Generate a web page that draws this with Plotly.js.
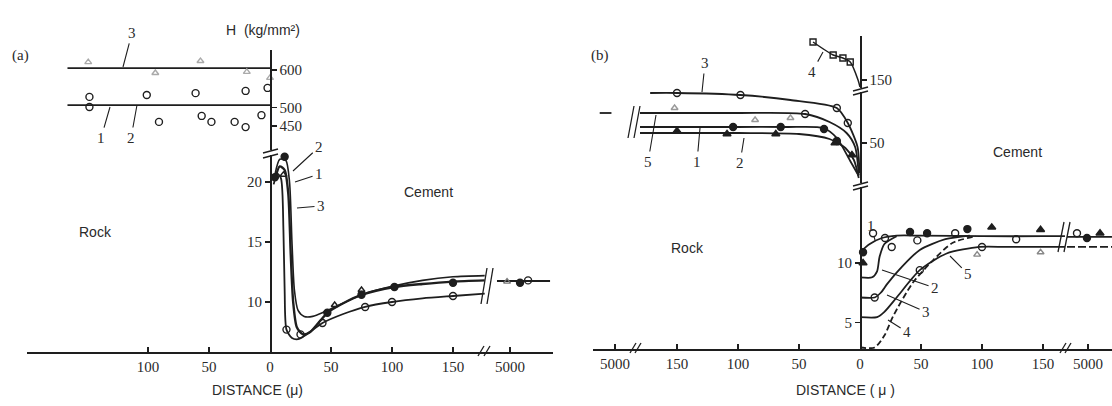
<!DOCTYPE html>
<html><head><meta charset="utf-8">
<script src="https://cdn.plot.ly/plotly-3.0.1.min.js"></script>
<style>html,body{margin:0;padding:0;background:#fff}</style>
</head><body><div id="chart" style="width:1112px;height:406px"></div>
<script>
// ---------- DATA (distance from the interface in microns; H in kg/mm^2) ----------
// Panel (a), rock side (upper H section)
const a_line3_x = [166, 0], a_line3_y = [605, 605];
const a_line12_x = [166, 0], a_line12_y = [506, 506];
const a_tri_x = [149, 94, 57, 19, 0];
const a_tri_y = [621, 592, 624, 595, 579];
const a_circ_x = [148, 101, 61, 20, 2, 148, 91, 56, 48, 29, 20, 7];
const a_circ_y = [528, 533, 538, 544, 552, 501, 461, 477, 461, 461, 447, 479];
// Panel (a), cement side (lower H section)
const a_cu_x = [4, 8, 13, 16, 18, 20, 23, 28, 35, 45, 60, 75, 100, 125, 150, 176];
const a_cu_y = [20.6, 21.9, 21.8, 20, 15, 11, 9.3, 8.8, 8.8, 9.2, 9.9, 10.6, 11.3, 11.8, 12.1, 12.2];
const a_cm_x = [4, 8, 12, 15, 17, 19, 22, 27, 33, 47, 60, 75, 102, 125, 150, 176];
const a_cm_y = [20.2, 21.3, 21.0, 19, 14, 10, 7.9, 7.3, 7.5, 9.1, 9.9, 10.6, 11.25, 11.5, 11.7, 11.8];
const a_cl_x = [3, 6, 9, 11, 12, 13.5, 18, 23, 30, 43, 60, 78, 100, 125, 150, 176];
const a_cl_y = [19.8, 20.7, 20.3, 16, 11, 7.7, 7.0, 6.9, 7.3, 8.25, 9.0, 9.6, 10.0, 10.3, 10.5, 10.7];
const a_fc_x = [4, 12, 47, 75, 102, 150], a_fc_y = [20.4, 22.1, 9.1, 10.6, 11.25, 11.6];
const a_oc_x = [13.5, 25, 43, 78, 100, 150], a_oc_y = [7.7, 7.3, 8.25, 9.58, 10.0, 10.5];
const a_ot_x = [11, 53, 75], a_ot_y = [20.6, 9.75, 11.0];
// Panel (a), 5000 micron segment (cement)
const a_far_line_x = [4902, 5298], a_far_line_y = [11.75, 11.75];
const a_far_t_x = [4977], a_far_t_y = [11.7];
const a_far_f_x = [5074], a_far_f_y = [11.6];
const a_far_o_x = [5134], a_far_o_y = [11.8];

// Panel (b), rock side, top H section (curve 4)
const b4_x = [38.5, 22, 14, 8, 1.6, 0], b4_y = [188, 175, 172, 168, 150, 143];
const b4_sq_x = [38.5, 22, 14, 8], b4_sq_y = [188, 175, 172, 168];
// Panel (b), rock side, middle H section
const b3_x = [172, 150, 98, 57, 19, 10, 2, 0.5], b3_y = [100, 100, 98, 93, 85, 70, 46, 20];
const b5_x = [181, 100, 45, 25, 11, 4, 1], b5_y = [80, 80, 79, 71, 60, 46, 18];
const b1_x = [181, 100, 60, 30, 19, 8, 1], b1_y = [66, 66, 66, 65, 55, 32, 17];
const b2_x = [181, 100, 50, 25, 12, 5, 1], b2_y = [60, 60, 59, 54, 45, 33, 15];
const b_oc_x = [150, 98, 19, 10, 45], b_oc_y = [100, 98, 85, 70, 79];
const b_fc_x = [104, 65, 29.5, 19], b_fc_y = [66, 66, 64, 52];
const b_ft_x = [150, 109, 69, 20.5, 6.6], b_ft_y = [62, 59, 59, 50, 38];
const b_ot_x = [152, 86, 57], b_ot_y = [85, 73, 75];
const b_farL_x = [5130, 5030], b_farL_y = [80, 80];
// Panel (b), cement side, lower H section
const bl1_x = [0, 8, 18, 30, 50, 100, 150, 168], bl1_y = [10.9, 11.6, 12.1, 12.3, 12.3, 12.25, 12.25, 12.25];
const bl5_x = [0, 14, 20, 30, 49, 71, 98, 120, 168], bl5_y = [5.46, 5.46, 5.9, 7.1, 9.4, 10.8, 11.35, 11.35, 11.35];
const bl3_x = [0, 12, 17, 22, 30, 49, 70, 90], bl3_y = [7.1, 7.1, 7.5, 8.2, 9.2, 11.1, 12.0, 12.3];
const bl2_x = [0, 10, 14, 16, 20, 30], bl2_y = [8.8, 8.8, 9.3, 10.5, 11.6, 12.25];
const bl4_x = [0, 12, 20, 27, 43, 60, 76, 95], bl4_y = [2.9, 2.9, 3.9, 5.5, 8.3, 10.25, 11.7, 12.25];
const bl_fc_x = [2.5, 41, 55, 88], bl_fc_y = [10.9, 12.6, 12.5, 12.85];
const bl_ft_x = [2.5, 108, 148], bl_ft_y = [10.0, 13.0, 12.8];
const bl_oc_x = [10.7, 20.5, 26, 47, 78, 128, 49, 100, 12], bl_oc_y = [12.5, 12.1, 11.35, 11.9, 12.5, 12.0, 9.4, 11.35, 7.1];
const bl_ot_x = [96, 148], bl_ot_y = [10.7, 10.9];
const b_farR_top_x = [4821, 5204], b_farR_top_y = [12.2, 12.2];
const b_farR_low_x = [4821, 5204], b_farR_low_y = [11.35, 11.35];
const b_farR_fc_x = [4991], b_farR_fc_y = [12.1];
const b_farR_ft_x = [5102], b_farR_ft_y = [12.5];
const b_farR_oc_x = [4906], b_farR_oc_y = [12.5];

// tick values
const a_rock_ticks = [100, 50];
const a_cem_ticks = [0, 50, 100, 150];
const b_rock_ticks = [150, 100, 50];
const b_cem_ticks = [0, 50, 100, 150];
const far_ticks = [5000];

// ---------- helpers ----------
const W = 1112, H = 406;
const PX = x => x / W, PY = y => 1 - y / H;
const INK = '#1e1e1e';
const serif = {family: 'Liberation Serif, serif', size: 15, color: '#2a2a2a'};
const sans = {family: 'Liberation Sans, Arial, sans-serif', size: 14, color: '#2a2a2a'};

function line(x, y, xa, ya, opt) {
  opt = opt || {};
  return {type: 'scatter', mode: 'lines', x, y, xaxis: xa, yaxis: ya, hoverinfo: 'skip', cliponaxis: false,
    line: {color: INK, width: opt.w || 1.8, shape: opt.shape || 'spline', smoothing: opt.sm || 0.7, dash: opt.dash || 'solid'}};
}
function pts(x, y, xa, ya, sym, opt) {
  opt = opt || {};
  return {type: 'scatter', mode: 'markers', x, y, xaxis: xa, yaxis: ya, hoverinfo: 'skip', cliponaxis: false,
    marker: {symbol: sym, size: opt.size || 7, color: opt.color || INK, line: {color: opt.color || INK, width: 1.4}}};
}

// axes: x = a rock, x6 = a cement, x2 = a 5000; x3 = b rock, x7 = b cement, x4 = b rock 5000, x5 = b cement 5000
const traces = [
  line(a_line3_x, a_line3_y, 'x', 'y', {shape: 'linear'}),
  line(a_line12_x, a_line12_y, 'x', 'y', {shape: 'linear'}),
  pts(a_tri_x, a_tri_y, 'x', 'y', 'triangle-up-open', {color: '#aaa', size: 6}),
  pts(a_circ_x, a_circ_y, 'x', 'y', 'circle-open'),
  line(a_cu_x, a_cu_y, 'x6', 'y2', {w: 1.6}),
  line(a_cm_x, a_cm_y, 'x6', 'y2', {w: 2.4}),
  line(a_cl_x, a_cl_y, 'x6', 'y2', {w: 1.8}),
  pts(a_fc_x, a_fc_y, 'x6', 'y2', 'circle'),
  pts(a_oc_x, a_oc_y, 'x6', 'y2', 'circle-open'),
  pts(a_ot_x, a_ot_y, 'x6', 'y2', 'triangle-up-open', {size: 6}),
  line(a_far_line_x, a_far_line_y, 'x2', 'y2', {shape: 'linear'}),
  pts(a_far_t_x, a_far_t_y, 'x2', 'y2', 'triangle-up-open', {size: 6, color: '#777'}),
  pts(a_far_f_x, a_far_f_y, 'x2', 'y2', 'circle'),
  pts(a_far_o_x, a_far_o_y, 'x2', 'y2', 'circle-open'),
  line(b4_x, b4_y, 'x3', 'y3', {w: 1.5}),
  pts(b4_sq_x, b4_sq_y, 'x3', 'y3', 'square-open', {size: 6}),
  line(b3_x, b3_y, 'x3', 'y4'),
  line(b5_x, b5_y, 'x3', 'y4'),
  line(b1_x, b1_y, 'x3', 'y4'),
  line(b2_x, b2_y, 'x3', 'y4'),
  pts(b_oc_x, b_oc_y, 'x3', 'y4', 'circle-open'),
  pts(b_fc_x, b_fc_y, 'x3', 'y4', 'circle'),
  pts(b_ft_x, b_ft_y, 'x3', 'y4', 'triangle-up'),
  pts(b_ot_x, b_ot_y, 'x3', 'y4', 'triangle-up-open', {size: 6, color: '#999'}),
  line(b_farL_x, b_farL_y, 'x4', 'y4', {shape: 'linear'}),
  line(bl1_x, bl1_y, 'x7', 'y5'),
  line(bl5_x, bl5_y, 'x7', 'y5'),
  line(bl3_x, bl3_y, 'x7', 'y5'),
  line(bl2_x, bl2_y, 'x7', 'y5'),
  line(bl4_x, bl4_y, 'x7', 'y5', {dash: '6px,3px'}),
  pts(bl_fc_x, bl_fc_y, 'x7', 'y5', 'circle'),
  pts(bl_ft_x, bl_ft_y, 'x7', 'y5', 'triangle-up'),
  pts(bl_oc_x, bl_oc_y, 'x7', 'y5', 'circle-open'),
  pts(bl_ot_x, bl_ot_y, 'x7', 'y5', 'triangle-up-open', {size: 6, color: '#888'}),
  line(b_farR_top_x, b_farR_top_y, 'x5', 'y5', {shape: 'linear'}),
  line(b_farR_low_x, b_farR_low_y, 'x5', 'y5', {shape: 'linear', dash: '8px,3px'}),
  pts(b_farR_fc_x, b_farR_fc_y, 'x5', 'y5', 'circle'),
  pts(b_farR_ft_x, b_farR_ft_y, 'x5', 'y5', 'triangle-up'),
  pts(b_farR_oc_x, b_farR_oc_y, 'x5', 'y5', 'circle-open'),
];

const base = {showgrid: false, zeroline: false, showline: true, linecolor: INK, linewidth: 1.5,
  tickfont: serif, tickcolor: INK, ticklen: 5, tickwidth: 1.3, fixedrange: true, anchor: 'free'};
const S = 1.22; // px per micron
const xa = (d0, d1, r0, r1, tv, pos) => Object.assign({}, base, {domain: [PX(d0), PX(d1)], range: [r0, r1],
  position: PY(pos), tickmode: 'array', tickvals: tv, ticks: 'inside'});

const layout = {
  width: W, height: H, margin: {l: 0, r: 0, t: 0, b: 0},
  paper_bgcolor: '#fff', plot_bgcolor: 'rgba(0,0,0,0)', showlegend: false,
  xaxis: xa(27, 270, (270 - 27) / S, 0, a_rock_ticks, 352),
  xaxis6: xa(270, 486, 0, (486 - 270) / S, a_cem_ticks, 352),
  xaxis2: xa(486, 553, 4820, 5320, far_ticks, 352),
  xaxis3: xa(640, 860, (860 - 640) / S, 0, b_rock_ticks, 349),
  xaxis7: xa(860, 1065, 0, (1065 - 860) / S, b_cem_ticks, 349),
  xaxis4: xa(593, 640, 5187, 4787, far_ticks, 349),
  xaxis5: Object.assign(xa(1065, 1112, 4804, 5204, far_ticks, 349), {domain: [PX(1065), 1]}),
  yaxis: Object.assign({}, base, {domain: [PY(150), PY(50)], range: [600 - 80 / 0.37333, 600 + 20 / 0.37333],
    position: PX(270), side: 'right', tickvals: [600, 500, 450], ticks: 'outside'}),
  yaxis2: Object.assign({}, base, {domain: [PY(352), PY(155)], range: [20 - 170 / 12, 20 + 27 / 12],
    position: PX(270), side: 'left', tickvals: [20, 15, 10], ticks: 'outside'}),
  yaxis3: Object.assign({}, base, {domain: [PY(88), PY(36)], range: [142, 194],
    position: PX(860), side: 'right', tickvals: [150], ticks: 'outside'}),
  yaxis4: Object.assign({}, base, {domain: [PY(183), PY(92)], range: [10, 101],
    position: PX(860), side: 'right', tickvals: [50], ticks: 'outside'}),
  yaxis5: Object.assign({}, base, {domain: [PY(349), PY(187)], range: [10 - 86 / 11.9, 10 + 76 / 11.9],
    position: PX(860), side: 'left', tickvals: [10, 5], ticks: 'outside'}),
  yaxis6: Object.assign({}, base, {overlaying: 'y5', range: [10 - 86 / 11.9, 10 + 76 / 11.9], showline: false,
    position: PX(860), side: 'right', tickvals: [15], ticks: 'outside'}),
  shapes: [],
  annotations: []
};

// break marks (decorative)
function brk(x1, y1, x2, y2, dx, dy) {
  [0, 1].forEach(k => layout.shapes.push({type: 'line', xref: 'paper', yref: 'paper',
    x0: PX(x1 + k * dx), y0: PY(y1 + k * dy), x1: PX(x2 + k * dx), y1: PY(y2 + k * dy),
    line: {color: INK, width: 1.3}}));
}
brk(263, 153, 278, 149, 0, 5);
brk(478, 356, 484, 346, 6, 0);
brk(481, 304, 487, 268, 6, 0);
brk(853, 91, 868, 87, 0, 4);
brk(853, 186, 868, 182, 0, 4);
brk(630, 353, 636, 343, 5, 0);
brk(1060, 353, 1066, 343, 5, 0);
brk(628, 138, 634, 106, 6, 0);
brk(1058, 252, 1064, 222, 6, 0);

function txt(t, x, y, font) {
  layout.annotations.push({text: t, xref: 'paper', yref: 'paper', x: PX(x), y: PY(y),
    showarrow: false, font: font || sans, xanchor: 'center', yanchor: 'middle'});
}
function lab(t, tx, ty, x, y) {
  layout.annotations.push({text: t, xref: 'paper', yref: 'paper', x: PX(x), y: PY(y),
    ax: tx - x, ay: ty - y, showarrow: true, arrowhead: 0, arrowwidth: 1.1, arrowcolor: INK,
    font: serif, standoff: 0, startstandoff: 1});
}
const lbl = {family: 'Liberation Sans, sans-serif', size: 14, color: '#2a2a2a'};
txt('(a)', 20, 55, serif);
txt('H  (kg/mm²)', 263, 30, lbl);
lab('3', 132, 33, 123, 67);
lab('1', 101, 138, 110, 107);
lab('2', 131, 138, 137, 105);
lab('2', 319, 147, 293, 171);
lab('1', 319, 174, 295, 182);
lab('3', 321, 206, 297, 208);
txt('Cement', 428, 192);
txt('Rock', 95, 232);
txt('DISTANCE (μ)', 257, 390, lbl);
txt('(b)', 600, 55, serif);
lab('3', 705, 63, 702, 92);
lab('4', 812, 72, 823, 52);
lab('5', 648, 162, 656, 115);
lab('1', 697, 162, 700, 128);
lab('2', 740, 163, 744, 138);
lab('1', 871, 226, 875, 240);
lab('2', 935, 288, 882, 270);
lab('3', 926, 312, 887, 295);
lab('4', 907, 332, 888, 320);
lab('5', 968, 274, 950, 256);
txt('Cement', 1017, 152);
txt('Rock', 687, 248);
txt('DISTANCE ( μ )', 845, 390, lbl);

Plotly.newPlot('chart', traces, layout, {staticPlot: true, displayModeBar: false});
</script></body></html>
